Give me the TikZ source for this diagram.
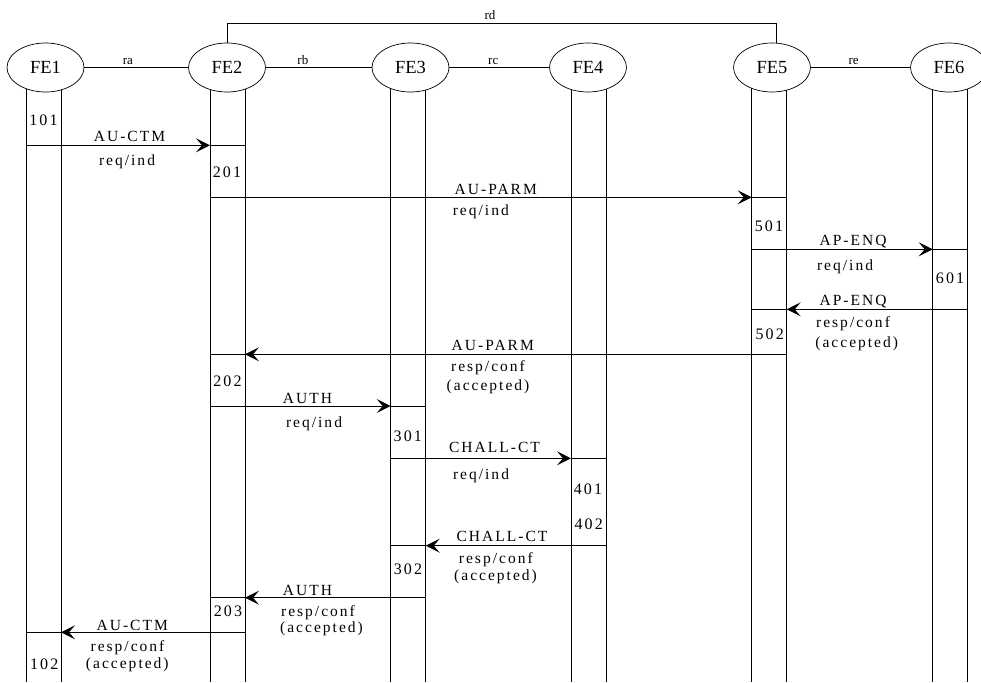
\documentclass[tikz,border=0pt]{standalone}
\usepackage{fontspec}
\setmainfont{Liberation Serif}
\newfontfamily\spaced[LetterSpace=13]{Liberation Serif}
\usetikzlibrary{arrows.meta,shapes.geometric}
\begin{document}
\begin{tikzpicture}[x=1pt,y=-1pt,
  fe/.style={ellipse,draw,fill=white,line width=0.7pt,minimum width=77pt,minimum height=49pt,inner sep=0pt,font=\fontsize{18.5}{18.5}\selectfont},
  life/.style={line width=0.8pt},
  link/.style={line width=0.8pt},
  msg/.style={line width=0.8pt,-{Stealth[length=14pt,width=14pt,inset=6pt,line width=1.2pt]}},
  lbl/.style={anchor=base,inner sep=0pt,font=\spaced\fontsize{15.5}{15.5}\selectfont},
  num/.style={anchor=base,inner sep=0pt,font=\spaced\fontsize{16}{16}\selectfont},
  rl/.style={above,inner sep=2.5pt,font=\fontsize{13}{13}\selectfont}
]
\useasboundingbox (0,0) rectangle (981,682);
% lifelines
\foreach \n/\a/\b in {1/26/61, 2/210/245, 3/390.7/425.7, 4/571/606, 5/751.7/786.7, 6/932.7/967.3}{
  \coordinate (la\n) at (\a,68); \coordinate (lA\n) at (\a,682);
  \coordinate (lb\n) at (\b,68); \coordinate (lB\n) at (\b,682);
  \draw[life] (la\n) -- (lA\n);
  \draw[life] (lb\n) -- (lB\n);
}
% entities
\node[fe] (FE1) at (45.5,67.5) {FE1};
\node[fe] (FE2) at (227,67.5) {FE2};
\node[fe] (FE3) at (410.5,67.5) {FE3};
\node[fe] (FE4) at (588,67.5) {FE4};
\node[fe] (FE5) at (772,67.5) {FE5};
\node[fe] (FE6) at (949,67.5) {FE6};
% relationships
\draw[link] (FE1) -- node[rl,pos=0.42] {ra} (FE2);
\draw[link] (FE2) -- node[rl,pos=0.35] {rb} (FE3);
\draw[link] (FE3) -- node[rl,pos=0.44] {rc} (FE4);
\draw[link] (FE5) -- node[rl,pos=0.43] {re} (FE6);
\coordinate (rd1) at (227,23.3);
\coordinate (rd2) at (776,23.3);
\draw[link] (FE2.north) -- (rd1) -- (rd2) -- ([xshift=4pt]FE5.north);
\node[anchor=base,inner sep=0pt,font=\fontsize{13}{13}\selectfont] (rdl) at (490,19.5) {rd};
% messages
\foreach \n/\y/\a/\h/\b in {1/145.3/26/210/245, 2/197.3/210/751.7/786.7, 3/249.3/751.7/932.7/967.3,
  4/309.3/967.3/786.7/751.7, 5/354.3/786.7/245/210, 6/406/210/390.7/425.7, 7/458.3/390.7/571/606,
  8/545.7/606/425.7/390.7, 9/597.7/425.7/245/210, 10/632.3/245/61/26}{
  \coordinate (ms\n) at (\a,\y);
  \coordinate (mh\n) at (\h,\y);
  \coordinate (me\n) at (\b,\y);
  \draw[msg] (ms\n) -- (mh\n);
  \draw[life] (mh\n) -- (me\n);
}
% message labels
\node[lbl] (t1a) at (129.5,141.7) {AU-CTM};
\node[lbl] (t1b) at (127,165.5) {req/ind};
\node[lbl] (t2a) at (495.8,194) {AU-PARM};
\node[lbl] (t2b) at (480.8,215.7) {req/ind};
\node[lbl] (t3a) at (853,245) {AP-ENQ};
\node[lbl] (t3b) at (845,270.7) {req/ind};
\node[lbl] (t4a) at (853,305.7) {AP-ENQ};
\node[lbl] (t4b) at (853,327.3) {resp/conf};
\node[lbl] (t4c) at (856.7,347.7) {(accepted)};
\node[lbl] (t5a) at (492.8,350.7) {AU-PARM};
\node[lbl] (t5b) at (488,371.7) {resp/conf};
\node[lbl] (t5c) at (488,390) {(accepted)};
\node[lbl] (t6a) at (307.5,403.3) {AUTH};
\node[lbl] (t6b) at (314,427.3) {req/ind};
\node[lbl] (t7a) at (494.5,452.4) {CHALL-CT};
\node[lbl] (t7b) at (481,479) {req/ind};
\node[lbl] (t8a) at (502,541.7) {CHALL-CT};
\node[lbl] (t8b) at (495.8,563.3) {resp/conf};
\node[lbl] (t8c) at (495.5,580) {(accepted)};
\node[lbl] (t9a) at (307.5,595.7) {AUTH};
\node[lbl] (t9b) at (318,616.7) {resp/conf};
\node[lbl] (t9c) at (321.5,632.7) {(accepted)};
\node[lbl] (t10a) at (132.2,630) {AU-CTM};
\node[lbl] (t10b) at (127.5,651.7) {resp/conf};
\node[lbl] (t10c) at (127.3,668.3) {(accepted)};
% state numbers
\node[num] (n101) at (43.5,125) {101};
\node[num] (n102) at (44.2,669) {102};
\node[num] (n201) at (227,177.3) {201};
\node[num] (n202) at (227.5,386.7) {202};
\node[num] (n203) at (228,616.7) {203};
\node[num] (n301) at (407.8,441.7) {301};
\node[num] (n302) at (408,574.3) {302};
\node[num] (n401) at (588,494.3) {401};
\node[num] (n402) at (588.7,529.3) {402};
\node[num] (n501) at (769,231.7) {501};
\node[num] (n502) at (769.7,339) {502};
\node[num] (n601) at (950,283.3) {601};
\end{tikzpicture}
\end{document}
